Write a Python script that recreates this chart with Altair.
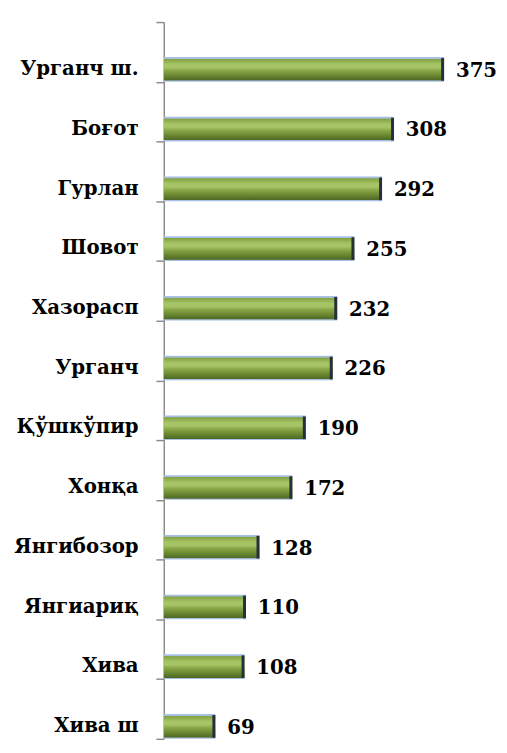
import altair as alt
import pandas as pd

districts = ["Урганч ш.", "Боғот", "Гурлан", "Шовот", "Хазорасп", "Урганч",
             "Қўшкўпир", "Хонқа", "Янгибозор", "Янгиариқ", "Хива", "Хива ш"]
values = [375, 308, 292, 255, 232, 226, 190, 172, 128, 110, 108, 69]

df = pd.DataFrame({"district": districts, "value": values})

FONT = "DejaVu Serif"
FS = 20
YOFF = 18.2

y = alt.Y(
    "district:N", sort=districts,
    scale=alt.Scale(paddingInner=0, paddingOuter=0),
    axis=alt.Axis(title=None, tickBand="extent", labelOffset=17, labelPadding=18,
                  labelFont=FONT, labelFontWeight="bold", labelFontSize=FS,
                  labelColor="black", labelLimit=300,
                  domainColor="#8c8c8c", domainWidth=1.5,
                  tickColor="#8c8c8c", tickWidth=1.5, tickSize=8),
)
x = alt.X("value:Q", scale=alt.Scale(domain=[0, 430], nice=False, zero=True), axis=None)

grad = alt.Gradient(
    gradient="linear", x1=0, x2=0, y1=0, y2=1,
    stops=[
        alt.GradientStop(offset=0.0, color="#a7bfe3"),
        alt.GradientStop(offset=0.06, color="#a7bfe3"),
        alt.GradientStop(offset=0.09, color="#84a242"),
        alt.GradientStop(offset=0.3, color="#a6c566"),
        alt.GradientStop(offset=0.42, color="#a7c467"),
        alt.GradientStop(offset=0.55, color="#8aa748"),
        alt.GradientStop(offset=0.8, color="#63802d"),
        alt.GradientStop(offset=0.94, color="#506926"),
        alt.GradientStop(offset=0.96, color="#a7bfe3"),
        alt.GradientStop(offset=1.0, color="#a7bfe3"),
    ],
)

bars = alt.Chart(df).mark_bar(size=25, yOffset=YOFF - 0.5, fill=grad).encode(x=x, y=y)
caps = alt.Chart(df).mark_bar(size=23, yOffset=YOFF - 0.5, x2Offset=-3, color="#26303c").encode(
    x=x, x2="value:Q", y=y)
labels = alt.Chart(df).mark_text(
    align="left", baseline="middle", dx=12, yOffset=YOFF + 1,
    font=FONT, fontWeight="bold", fontSize=FS, color="black",
).encode(x=x, y=y, text="value:Q")

chart = alt.layer(bars, caps, labels).properties(
    width=326, height=727,
    padding={"left": 158, "top": 9, "right": 14, "bottom": 1},
    autosize="none",
).configure_view(stroke=None)

chart.save("out.html", embed_options={"renderer": "svg", "actions": False})
